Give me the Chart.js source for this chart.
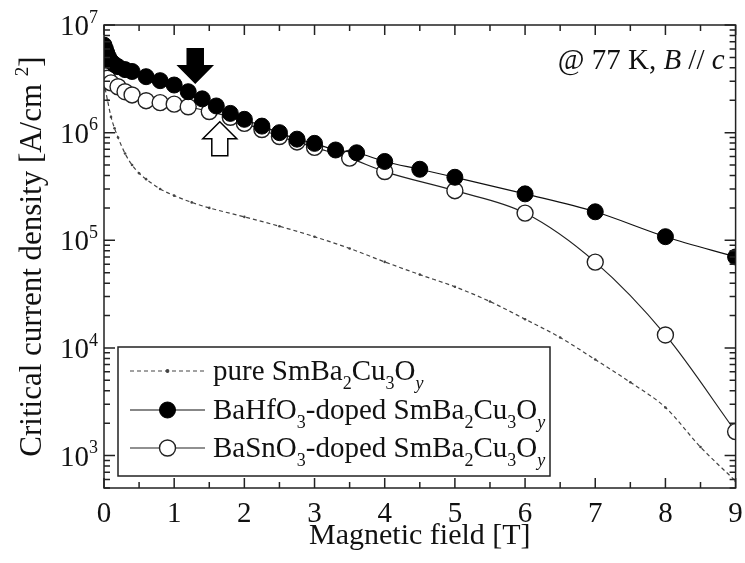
<!DOCTYPE html>
<html>
<head>
<meta charset="utf-8">
<script src="https://cdn.jsdelivr.net/npm/chart.js@4.4.1/dist/chart.umd.min.js"></script>
<style>
  html, body { margin: 0; padding: 0; background: #fff; }
  #wrap { width: 745px; height: 563px; position: relative; }
</style>
</head>
<body>
<div id="wrap"><canvas id="jc"></canvas></div>
<script>
// axis labels
const xTickLabels = ["0", "1", "2", "3", "4", "5", "6", "7", "8", "9"];
const yTickExponents = [3, 4, 5, 6, 7];

// pure SmBa2Cu3Oy
const pureField = [0, 0.02, 0.05, 0.1, 0.15, 0.2, 0.3, 0.4, 0.5, 0.6, 0.8, 1.0, 1.25, 1.5, 2.0, 2.5, 3.0, 3.5, 4.0, 4.5, 5.0, 5.5, 6.0, 6.5, 7.0, 7.5, 8.0, 8.5, 9.0];
const pureJc = [3.0e6, 2.5e6, 2.0e6, 1.4e6, 1.1e6, 9.0e5, 6.4e5, 5.0e5, 4.2e5, 3.7e5, 3.0e5, 2.6e5, 2.25e5, 2.0e5, 1.65e5, 1.35e5, 1.08e5, 8.4e4, 6.3e4, 4.8e4, 3.7e4, 2.7e4, 1.85e4, 1.25e4, 7.8e3, 4.8e3, 2.8e3, 1.2e3, 580];

// BaHfO3-doped
const hfField = [0, 0.02, 0.04, 0.06, 0.08, 0.1, 0.15, 0.2, 0.3, 0.4, 0.6, 0.8, 1.0, 1.2, 1.4, 1.6, 1.8, 2.0, 2.25, 2.5, 2.75, 3.0, 3.3, 3.6, 4.0, 4.5, 5.0, 6.0, 7.0, 8.0, 9.0];
const hfJc = [6.5e6, 6.0e6, 5.5e6, 5.1e6, 4.8e6, 4.6e6, 4.3e6, 4.1e6, 3.85e6, 3.7e6, 3.31e6, 3.04e6, 2.77e6, 2.4e6, 2.06e6, 1.77e6, 1.51e6, 1.33e6, 1.15e6, 1.0e6, 8.7e5, 7.95e5, 6.9e5, 6.5e5, 5.4e5, 4.57e5, 3.85e5, 2.7e5, 1.84e5, 1.08e5, 7.0e4];

// BaSnO3-doped
const snField = [0, 0.02, 0.05, 0.1, 0.2, 0.3, 0.4, 0.6, 0.8, 1.0, 1.2, 1.5, 1.8, 2.0, 2.25, 2.5, 2.75, 3.0, 3.5, 4.0, 5.0, 6.0, 7.0, 8.0, 9.0];
const snJc = [3.5e6, 3.4e6, 3.2e6, 2.9e6, 2.67e6, 2.4e6, 2.24e6, 1.98e6, 1.9e6, 1.84e6, 1.74e6, 1.57e6, 1.39e6, 1.22e6, 1.07e6, 9.2e5, 8.2e5, 7.3e5, 5.8e5, 4.35e5, 2.89e5, 1.79e5, 6.27e4, 1.32e4, 1.67e3];

// legend texts (rich: [text, kind])
const legendLabels = [
  [["pure SmBa"], ["2", "sub"], ["Cu"], ["3", "sub"], ["O"], ["y", "subi"]],
  [["BaHfO"], ["3", "sub"], ["-doped SmBa"], ["2", "sub"], ["Cu"], ["3", "sub"], ["O"], ["y", "subi"]],
  [["BaSnO"], ["3", "sub"], ["-doped SmBa"], ["2", "sub"], ["Cu"], ["3", "sub"], ["O"], ["y", "subi"]],
];
const xTitle = [["Magnetic field [T]"]];
const yTitle = [["Critical current density [A/cm "], ["2", "sup"], ["]"]];
const noteText = [["@ 77 K, "], ["B", "i"], [" // "], ["c", "i"]];

// arrows pointing at the crossing region (data coords of tip)
const arrowMarks = [
  { x: 1.3, y: 2.9e6, dir: "down", fill: "#000" },
  { x: 1.65, y: 1.26e6, dir: "up", fill: "#fff" },
];

const FONT = '"Liberation Serif", "Times New Roman", serif';
const INK = "#222";

function toPoints(xs, ys) {
  return xs.map((x, i) => ({ x: x, y: ys[i] }));
}

function partFont(kind, size) {
  let s = size;
  let style = "";
  if (kind == "sub" || kind == "sup" || kind == "subi") s = Math.round(size * 0.62);
  if (kind == "i" || kind == "subi") style = "italic ";
  return style + s + "px " + FONT;
}

function richWidth(ctx, parts, size) {
  let w = 0;
  parts.forEach((p) => {
    ctx.font = partFont(p[1], size);
    w += ctx.measureText(p[0]).width;
  });
  return w;
}

// draws text with sub/superscripts, y is the baseline
function drawRich(ctx, parts, x, y, size, align) {
  let cx = x;
  const w = richWidth(ctx, parts, size);
  if (align == "center") cx = x - w / 2;
  if (align == "right") cx = x - w;
  ctx.textAlign = "left";
  ctx.textBaseline = "alphabetic";
  parts.forEach((p) => {
    const kind = p[1];
    ctx.font = partFont(kind, size);
    let dy = 0;
    if (kind == "sub" || kind == "subi") dy = size * 0.32;
    if (kind == "sup") dy = -size * 0.42;
    ctx.fillText(p[0], cx, y + dy);
    cx += ctx.measureText(p[0]).width;
  });
}

function drawArrow(ctx, cx, tipY, dir, fill) {
  const len = 34, head = 17, hw = 17, sw = 8;
  const s = dir == "down" ? -1 : 1; // tail direction from tip
  ctx.beginPath();
  ctx.moveTo(cx, tipY);
  ctx.lineTo(cx + hw, tipY + s * head);
  ctx.lineTo(cx + sw, tipY + s * head);
  ctx.lineTo(cx + sw, tipY + s * len);
  ctx.lineTo(cx - sw, tipY + s * len);
  ctx.lineTo(cx - sw, tipY + s * head);
  ctx.lineTo(cx - hw, tipY + s * head);
  ctx.closePath();
  ctx.fillStyle = fill;
  ctx.fill();
  ctx.lineWidth = 1.5;
  ctx.strokeStyle = "#000";
  ctx.stroke();
}

const framePlugin = {
  id: "frameAndLabels",
  afterDraw: (chart) => {
    const ctx = chart.ctx;
    const a = chart.chartArea;
    const xs = chart.scales.x;
    const ys = chart.scales.y;
    ctx.save();
    ctx.strokeStyle = INK;
    ctx.fillStyle = INK;
    ctx.lineWidth = 1.5;

    // frame
    ctx.strokeRect(a.left, a.top, a.right - a.left, a.bottom - a.top);

    // x ticks (inward, bottom and top)
    for (let v = 0; v <= 9; v += 0.5) {
      const px = xs.getPixelForValue(v);
      const len = Number.isInteger(v) ? 10 : 6;
      ctx.beginPath();
      ctx.moveTo(px, a.bottom);
      ctx.lineTo(px, a.bottom - len);
      ctx.moveTo(px, a.top);
      ctx.lineTo(px, a.top + len);
      ctx.stroke();
    }

    // y ticks (log, inward, left and right)
    for (let e = 2; e <= 7; e++) {
      for (let m = 1; m <= 9; m++) {
        const v = m * Math.pow(10, e);
        if (v < ys.min || v > ys.max) continue;
        const py = ys.getPixelForValue(v);
        const len = m == 1 ? 11 : 6;
        ctx.beginPath();
        ctx.moveTo(a.left, py);
        ctx.lineTo(a.left + len, py);
        ctx.moveTo(a.right, py);
        ctx.lineTo(a.right - len, py);
        ctx.stroke();
      }
    }

    // x tick labels
    ctx.fillStyle = "#111";
    xTickLabels.forEach((t, i) => {
      drawRich(ctx, [[t]], xs.getPixelForValue(i), a.bottom + 34, 29, "center");
    });

    // y tick labels 10^n
    yTickExponents.forEach((e) => {
      const py = ys.getPixelForValue(Math.pow(10, e));
      drawRich(ctx, [["10"], [String(e), "sup"]], a.left - 6, py + 10, 29, "right");
    });

    // axis titles
    drawRich(ctx, xTitle, (a.left + a.right) / 2, a.bottom + 56, 30, "center");
    ctx.save();
    ctx.translate(41, (a.top + a.bottom) / 2);
    ctx.rotate(-Math.PI / 2);
    drawRich(ctx, yTitle, 0, 0, 31, "center");
    ctx.restore();

    // condition note
    drawRich(ctx, noteText, a.right - 11, a.top + 44, 29, "right");

    // arrows
    arrowMarks.forEach((m) => {
      drawArrow(ctx, xs.getPixelForValue(m.x), ys.getPixelForValue(m.y), m.dir, m.fill);
    });

    // legend box
    const lx = a.left + 14, ly = 347, lw = 432, lh = 129;
    ctx.fillStyle = "#fff";
    ctx.fillRect(lx, ly, lw, lh);
    ctx.lineWidth = 1.5;
    ctx.strokeStyle = INK;
    ctx.strokeRect(lx, ly, lw, lh);
    const rows = [ly + 24, ly + 63, ly + 101];
    const x0 = lx + 12, x1 = lx + 87, xm = (x0 + x1) / 2;
    chart.data.datasets.forEach((ds, i) => {
      const ry = rows[i];
      ctx.save();
      ctx.strokeStyle = ds.borderColor;
      ctx.lineWidth = ds.borderWidth;
      ctx.setLineDash(ds.borderDash || []);
      ctx.beginPath();
      ctx.moveTo(x0, ry);
      ctx.lineTo(x1, ry);
      ctx.stroke();
      ctx.setLineDash([]);
      ctx.beginPath();
      ctx.arc(xm, ry, ds.pointRadius, 0, Math.PI * 2);
      ctx.fillStyle = ds.pointBackgroundColor;
      ctx.fill();
      ctx.lineWidth = ds.pointBorderWidth;
      ctx.strokeStyle = ds.pointBorderColor;
      ctx.stroke();
      ctx.restore();
      ctx.fillStyle = "#111";
      drawRich(ctx, legendLabels[i], x1 + 8, ry + 9, 29, "left");
    });

    ctx.restore();
  },
};

const ctx = document.getElementById("jc").getContext("2d");
new Chart(ctx, {
  type: "line",
  data: {
    datasets: [
      {
        label: "pure",
        data: toPoints(pureField, pureJc),
        borderColor: "#444",
        borderWidth: 1.2,
        borderDash: [4, 3],
        pointRadius: 1.3,
        pointBackgroundColor: "#444",
        pointBorderColor: "#444",
        pointBorderWidth: 0,
        cubicInterpolationMode: "monotone",
        order: 3,
      },
      {
        label: "BaHfO3",
        data: toPoints(hfField, hfJc),
        borderColor: "#111",
        borderWidth: 1.2,
        pointRadius: 8,
        pointBackgroundColor: "#000",
        pointBorderColor: "#000",
        pointBorderWidth: 1,
        cubicInterpolationMode: "monotone",
        order: 1,
      },
      {
        label: "BaSnO3",
        data: toPoints(snField, snJc),
        borderColor: "#222",
        borderWidth: 1.2,
        pointRadius: 8,
        pointBackgroundColor: "#fff",
        pointBorderColor: "#222",
        pointBorderWidth: 1.4,
        cubicInterpolationMode: "monotone",
        order: 2,
      },
    ],
  },
  options: {
    responsive: true,
    maintainAspectRatio: false,
    animation: false,
    layout: { padding: { top: 25, right: 9, left: 0, bottom: 0 } },
    scales: {
      x: {
        type: "linear",
        min: 0,
        max: 9,
        grid: { display: false },
        border: { display: false },
        ticks: { display: false },
        afterFit: (scale) => {
          scale.height = 75;
        },
      },
      y: {
        type: "logarithmic",
        min: 500,
        max: 1e7,
        grid: { display: false },
        border: { display: false },
        ticks: { display: false },
        afterFit: (scale) => {
          scale.width = 104;
        },
      },
    },
    plugins: {
      legend: { display: false },
      tooltip: { enabled: false },
    },
  },
  plugins: [framePlugin],
});
</script>
</body>
</html>
